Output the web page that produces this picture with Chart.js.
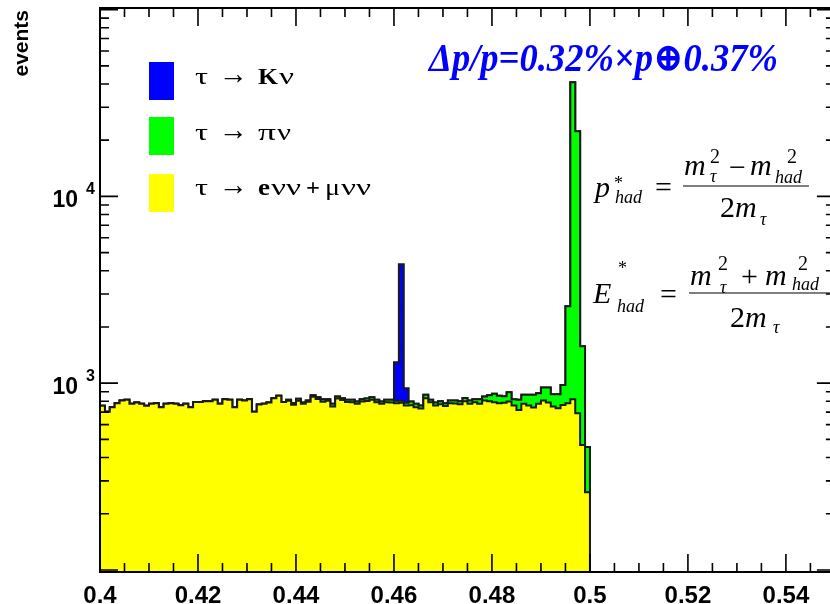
<!DOCTYPE html>
<html>
<head>
<meta charset="utf-8">
<title>tau two-body decays</title>
<script src="https://cdn.jsdelivr.net/npm/chart.js@4.4.1/dist/chart.umd.min.js"></script>
<style>
  html, body { margin: 0; padding: 0; background: #fff; }
  canvas { display: block; }
</style>
</head>
<body>
<canvas id="histo" width="830" height="604"></canvas>
<script>
// binning of the histogram: low edge of first bin, bin width, upper edge
const BIN_START = 0.4;
const BIN_WIDTH = 0.001;
const BIN_END = 0.5;

// y axis range (log)
const Y_MIN = 97.5;
const Y_MAX = 102000;
const X_MAX = 0.549;     // what fits in the window
const X_FRAME = 0.55;    // where the right frame really sits

// tau -> e nu nu + mu nu nu  (yellow)
const leptonCounts = [
  756, 704, 744, 781, 807, 814, 775, 787, 775, 756,
  775, 781, 744, 775, 781, 775, 762, 775, 744, 794,
  794, 800, 800, 814, 775, 821, 814, 744, 814, 807,
  821, 704, 768, 775, 787, 831, 855, 794, 806, 766,
  806, 777, 795, 847, 822, 796, 806, 750, 828, 813,
  792, 790, 775, 798, 802, 815, 790, 775, 790, 788,
  780, 785, 760, 762, 742, 732, 830, 790, 760, 770,
  755, 780, 778, 770, 800, 775, 790, 775, 807, 800,
  791, 781, 785, 797, 759, 719, 775, 759, 740, 775,
  807, 787, 749, 734, 765, 781, 821, 690, 466, 261
];

// tau -> pi nu  (green)
const pionCounts = [
  0, 0, 0, 0, 0, 0, 0, 0, 0, 0,
  0, 0, 0, 0, 0, 0, 0, 0, 0, 0,
  0, 0, 0, 0, 0, 0, 0, 0, 0, 0,
  0, 0, 0, 0, 0, 0, 0, 0, 8, 15,
  20, 10, 12, 15, 18, 25, 15, 25, 20, 18,
  22, 24, 22, 23, 25, 26, 24, 22, 24, 26,
  25, 20, 25, 35, 33, 28, 36, 24, 27, 30,
  26, 27, 29, 30, 34, 32, 31, 46, 41, 62,
  86, 74, 65, 98, 62, 95, 91, 107, 126, 109,
  140, 160, 124, 139, 214, 1799, 39979, 21610, 1112, 194
];

// tau -> K nu  (blue)
const kaonCounts = [
  0, 0, 0, 0, 0, 0, 0, 0, 0, 0,
  0, 0, 0, 0, 0, 0, 0, 0, 0, 0,
  0, 0, 0, 0, 0, 0, 0, 0, 0, 0,
  0, 0, 0, 0, 0, 0, 0, 0, 0, 0,
  0, 0, 0, 0, 0, 0, 0, 0, 0, 0,
  0, 0, 0, 0, 0, 0, 0, 0, 0, 0,
  490, 3525, 155, 0, 0, 0, 0, 0, 0, 0,
  0, 0, 0, 0, 0, 0, 0, 0, 0, 0,
  0, 0, 0, 0, 0, 0, 0, 0, 0, 0,
  0, 0, 0, 0, 0, 0, 0, 0, 0, 0
];

const xTicks = [0.4, 0.42, 0.44, 0.46, 0.48, 0.5, 0.52, 0.54];
const yTicks = [1000, 10000];

const legendNames = ['τ → Kν', 'τ → πν', 'τ → eνν + μνν'];

// stacked like THStack: each curve is the running sum
const sumLepton = leptonCounts;
const sumPion = leptonCounts.map((v, i) => v + pionCounts[i]);
const sumKaon = sumPion.map((v, i) => v + kaonCounts[i]);

// step outline: point on each low edge, close at the upper edge and drop to the floor
function histPoints(counts) {
  const pts = counts.map((c, i) => ({ x: BIN_START + i * BIN_WIDTH, y: c }));
  pts.push({ x: BIN_END, y: counts[counts.length - 1] });
  pts.push({ x: BIN_END, y: Y_MIN });
  return pts;
}

function histSet(label, counts, color) {
  return {
    label: label,
    data: histPoints(counts),
    backgroundColor: color,
    borderColor: '#1a1a1a',
    borderWidth: 2,
    fill: 'start',
    stepped: true,
    pointRadius: 0,
    tension: 0
  };
}

const serif = '"Liberation Serif", "DejaVu Serif", serif';
const sans = '"Liberation Sans", Arial, sans-serif';

// text piece at a fixed spot; w = stretch to that width
function put(ctx, t, x, y, font, w) {
  ctx.font = font;
  if (!w) { ctx.fillText(t, x, y); return; }
  const m = ctx.measureText(t).width;
  ctx.save();
  ctx.translate(x, y);
  ctx.scale(w / m, 1);
  ctx.fillText(t, 0, 0);
  ctx.restore();
}

const rootFrame = {
  id: 'rootFrame',
  afterDatasetsDraw(chart) {
    const { ctx, chartArea: a, scales: { x, y } } = chart;
    const xr = x.getPixelForValue(X_FRAME);
    ctx.save();
    ctx.strokeStyle = '#000';
    ctx.lineWidth = 1.6;

    // x ticks, every 0.005, long every 0.02
    ctx.beginPath();
    for (let k = 0; k <= 30; k++) {
      const px = x.getPixelForValue(BIN_START + k * 0.005);
      const len = k % 4 === 0 ? 18 : 9;
      ctx.moveTo(px, a.bottom); ctx.lineTo(px, a.bottom - len);
      ctx.moveTo(px, a.top); ctx.lineTo(px, a.top + len);
    }
    // log ticks
    for (let d = 100; d <= 100000; d *= 10) {
      for (let m = 1; m <= 9; m++) {
        const v = m * d;
        if (v < Y_MIN || v > Y_MAX) continue;
        const py = y.getPixelForValue(v);
        const len = m === 1 ? 18 : 9;
        ctx.moveTo(a.left, py); ctx.lineTo(a.left + len, py);
        ctx.moveTo(xr, py); ctx.lineTo(xr - len, py);
      }
    }
    ctx.stroke();

    ctx.lineWidth = 2;
    ctx.strokeRect(a.left, a.top, xr - a.left, a.bottom - a.top);

    // y labels 10^n
    ctx.fillStyle = '#000';
    ctx.textBaseline = 'alphabetic';
    yTicks.forEach(v => {
      const py = y.getPixelForValue(v);
      ctx.font = 'bold 23px ' + sans;
      ctx.textAlign = 'right';
      ctx.fillText('10', 78, py + 11);
      ctx.font = 'bold 16px ' + sans;
      ctx.textAlign = 'left';
      ctx.fillText(String(Math.round(Math.log10(v))), 86, py - 2);
    });

    // axis title
    ctx.save();
    ctx.translate(28, 10);
    ctx.rotate(-Math.PI / 2);
    ctx.textAlign = 'right';
    ctx.font = 'bold 21px ' + sans;
    ctx.fillText('events', 0, 0);
    ctx.restore();

    // legend, boxes use the dataset colours
    const ds = chart.data.datasets;
    const f = '24px ' + serif;
    const fb = 'bold 24px ' + serif;
    ctx.textAlign = 'left';
    const boxes = [[ds[2], 62, 84], [ds[1], 117, 140], [ds[0], 174, 195]];
    boxes.forEach(([set, top, base]) => {
      ctx.fillStyle = set.backgroundColor;
      ctx.fillRect(149, top, 25, 38);
      ctx.fillStyle = '#000';
      put(ctx, 'τ', 195, base, f, 13);
      put(ctx, '→', 219, base, '31px ' + serif, 29);
    });
    put(ctx, 'K', 258, 84, fb, 20); put(ctx, 'ν', 279, 84, f, 15);
    put(ctx, 'π', 258, 140, f, 18); put(ctx, 'ν', 277, 140, f, 14);
    put(ctx, 'e', 258, 195, fb, 12); put(ctx, 'ν', 271, 195, f, 15); put(ctx, 'ν', 286, 195, f, 15);
    put(ctx, '+', 306, 195, fb, 14);
    put(ctx, 'μ', 325, 195, f, 15); put(ctx, 'ν', 341, 195, f, 15); put(ctx, 'ν', 356, 195, f, 15);

    // resolution note
    ctx.fillStyle = '#0000ff';
    put(ctx, 'Δp/p=0.32%×p⊕0.37%', 429, 71, 'italic bold 40px ' + serif, 349);

    // two-body formulas
    ctx.fillStyle = '#000';
    const big = 'italic 30px ' + serif, rm = '30px ' + serif;
    const sub = 'italic 18px ' + serif, sup = '20px ' + serif, star = '18px ' + serif;
    // p*_had
    put(ctx, 'p', 595, 197, big); put(ctx, '*', 614, 189, star); put(ctx, 'had', 615, 203, sub);
    put(ctx, '=', 655, 197, rm);
    put(ctx, 'm', 684, 175, big); put(ctx, '2', 710, 163, sup); put(ctx, 'τ', 710, 182, sub);
    put(ctx, '−', 729, 177, rm);
    put(ctx, 'm', 750, 175, big); put(ctx, '2', 787, 163, sup); put(ctx, 'had', 775, 183, sub);
    put(ctx, '2', 720, 217, rm); put(ctx, 'm', 735, 217, big); put(ctx, 'τ', 760, 225, sub);
    // E*_had
    put(ctx, 'E', 593, 303, big); put(ctx, '*', 618, 274, star); put(ctx, 'had', 617, 312, sub);
    put(ctx, '=', 660, 304, rm);
    put(ctx, 'm', 690, 285, big); put(ctx, '2', 718, 270, sup); put(ctx, 'τ', 720, 293, sub);
    put(ctx, '+', 741, 286, rm);
    put(ctx, 'm', 765, 285, big); put(ctx, '2', 798, 270, sup); put(ctx, 'had', 792, 290, sub);
    put(ctx, '2', 730, 327, rm); put(ctx, 'm', 745, 327, big); put(ctx, 'τ', 773, 333, sub);

    ctx.lineWidth = 1.2;
    ctx.beginPath();
    ctx.moveTo(683, 186); ctx.lineTo(809, 186);
    ctx.moveTo(689, 293); ctx.lineTo(840, 293);
    ctx.stroke();
    ctx.restore();
  }
};

const ctx = document.getElementById('histo').getContext('2d');
new Chart(ctx, {
  type: 'line',
  data: {
    datasets: [
      histSet(legendNames[2], sumLepton, '#ffff00'),
      histSet(legendNames[1], sumPion, '#00ff00'),
      histSet(legendNames[0], sumKaon, '#0000ff')
    ]
  },
  options: {
    responsive: false,
    animation: false,
    events: [],
    layout: { padding: { left: 100, top: 8, right: 0, bottom: -17 } },
    plugins: {
      legend: { display: false },
      tooltip: { enabled: false }
    },
    scales: {
      x: {
        type: 'linear',
        min: BIN_START,
        max: X_MAX,
        afterBuildTicks: s => { s.ticks = xTicks.map(v => ({ value: v })); },
        ticks: {
          callback: v => String(+v.toFixed(3)),
          color: '#000',
          padding: 17,
          maxRotation: 0,
          autoSkip: false,
          font: { family: sans, size: 24, weight: 'bold', lineHeight: 0.625 }
        },
        grid: { display: false, drawTicks: false },
        border: { display: false }
      },
      y: {
        type: 'logarithmic',
        min: Y_MIN,
        max: Y_MAX,
        display: false
      }
    }
  },
  plugins: [rootFrame]
});
</script>
</body>
</html>
